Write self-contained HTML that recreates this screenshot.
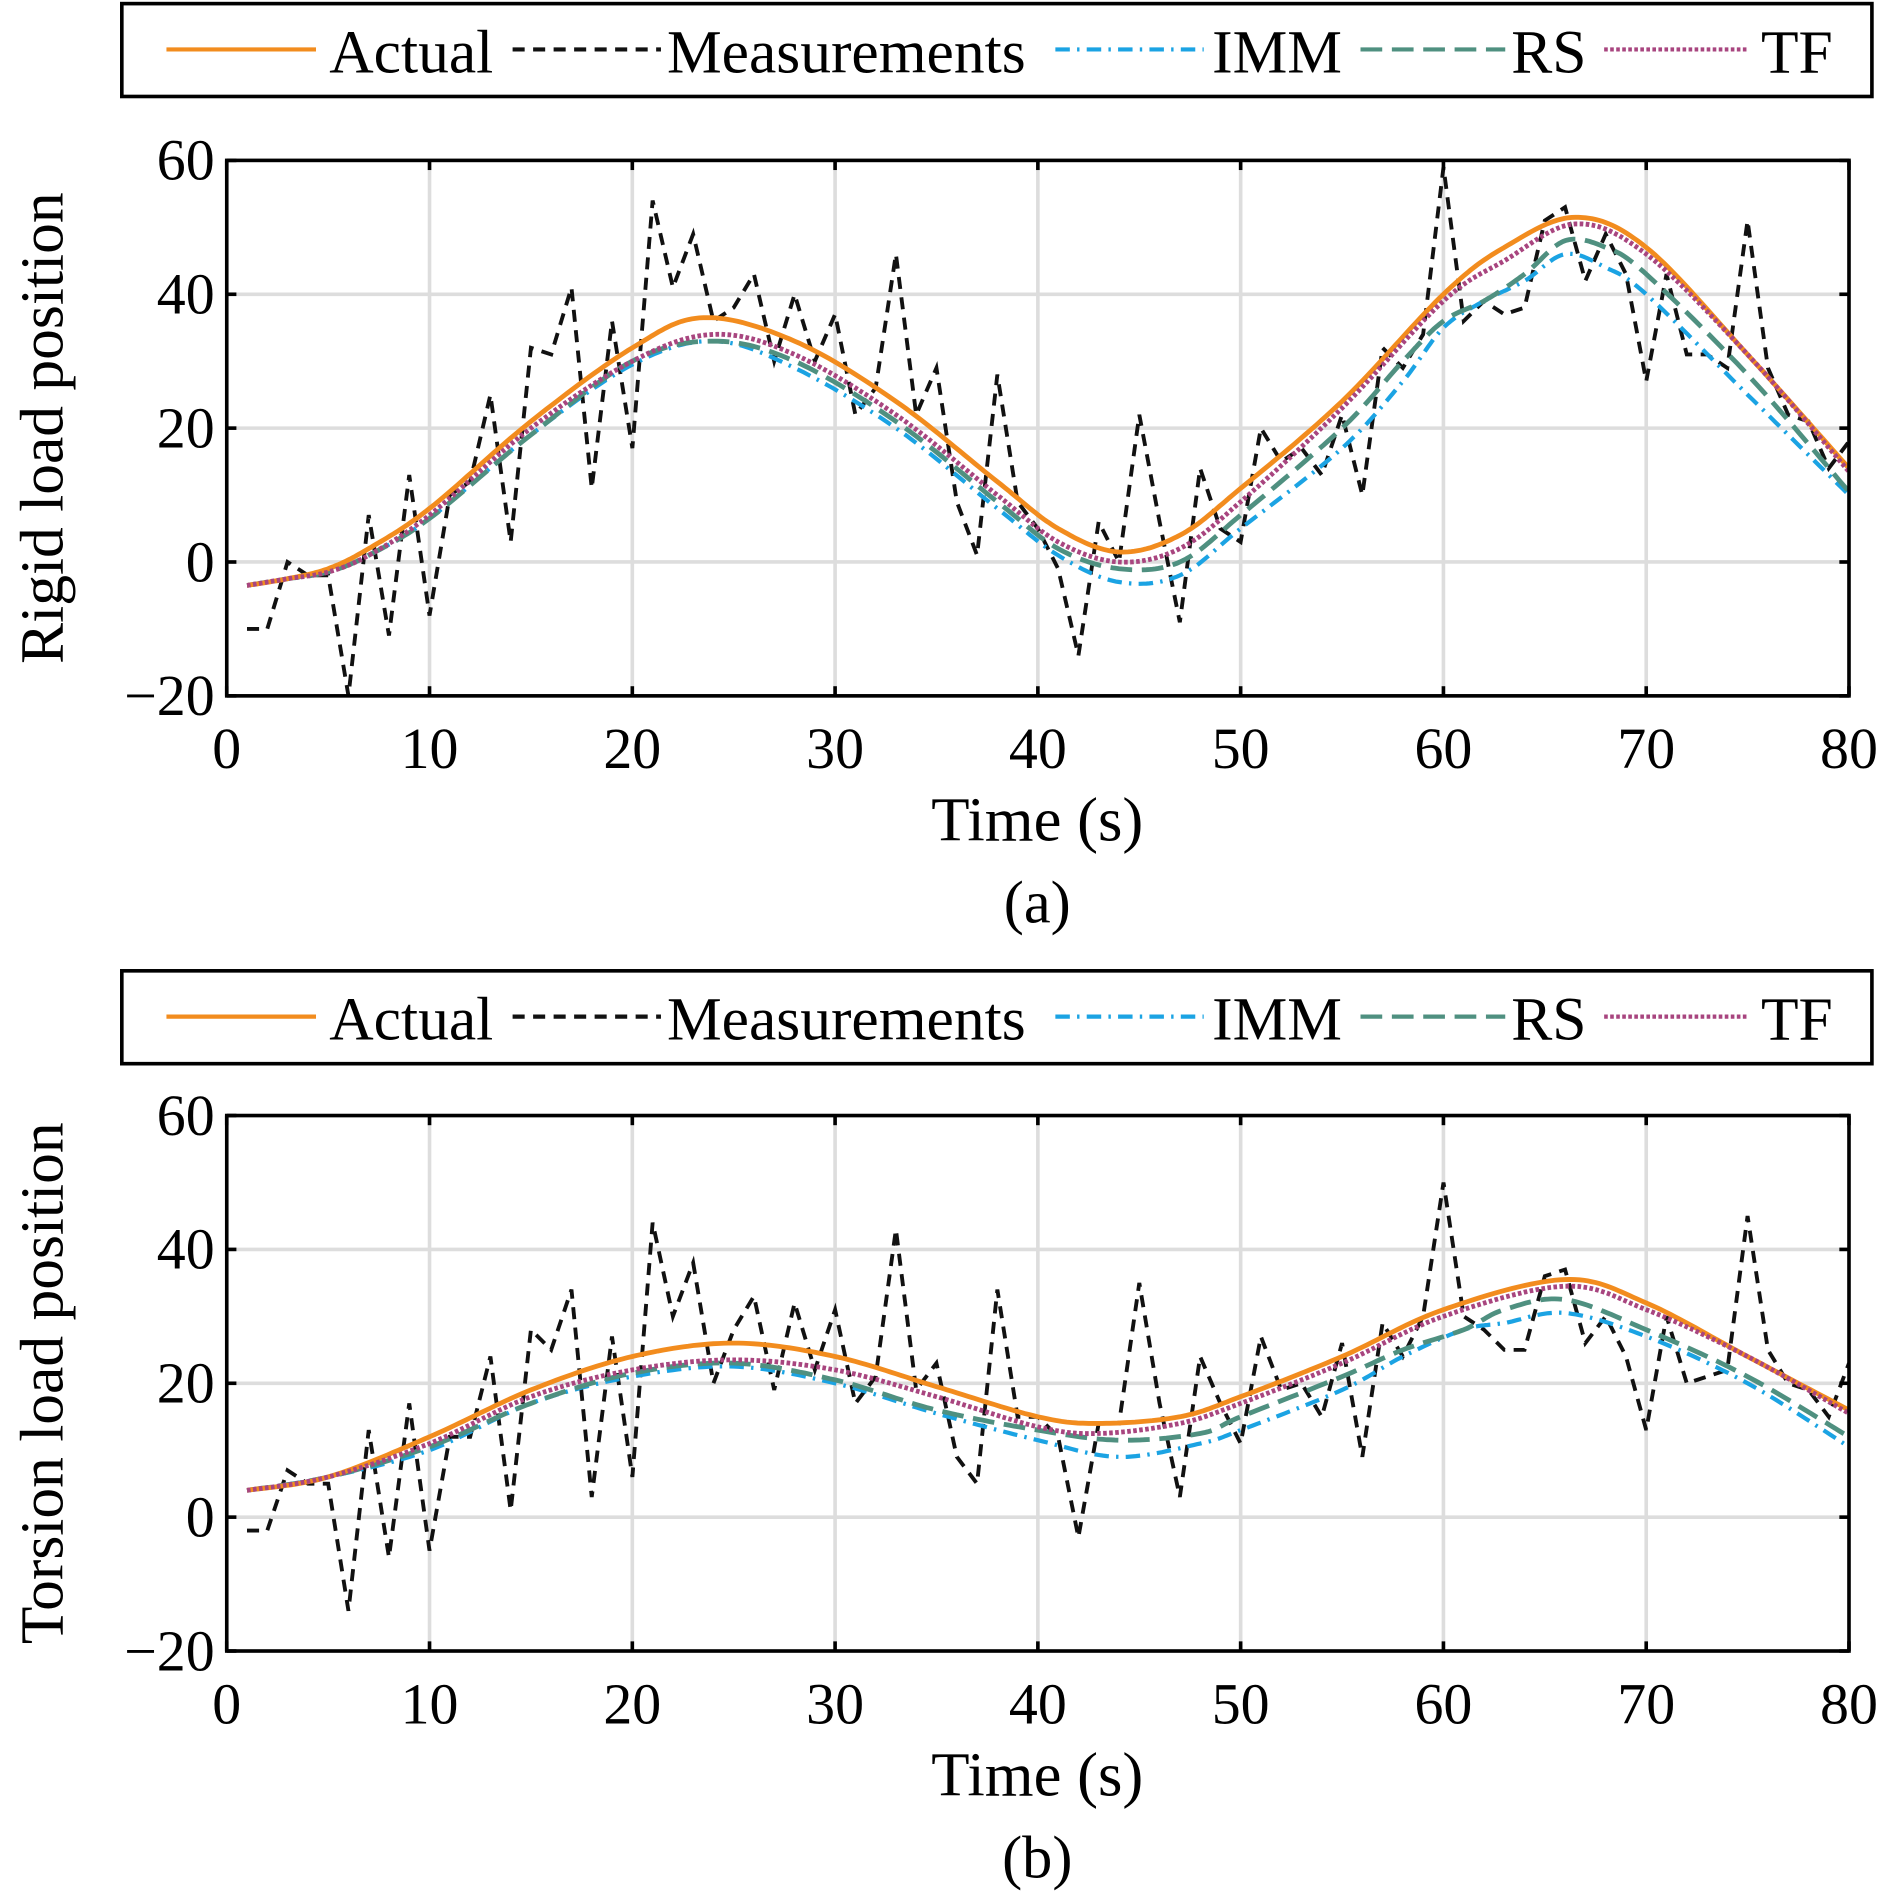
<!DOCTYPE html><html><head><meta charset="utf-8"><style>body{margin:0;background:#fff}svg{display:block}text{font-family:"Liberation Serif",serif;fill:#000}</style></head><body>
<svg id="s" width="1890" height="1891" viewBox="0 0 1567 1568" preserveAspectRatio="none" xmlns="http://www.w3.org/2000/svg"></svg>
<script>
const S=document.getElementById('s');let h='';
const C={a:'#F28C1E',m:'#111',i:'#1BA3E3',r:'#4F9080',t:'#A8457F'};
const ST={a:'',m:'10,7',i:'12,6,2,6',r:'18,8',t:'3,2'};
function legend(y){h+=`<rect x="101" y="${y}" width="1451" height="77" fill="#fff" stroke="#000" stroke-width="3"/>`;
const it=[['a',138,262,273,'Actual'],['m',425,548,553,'Measurements'],['i',875,998,1005,'IMM'],['r',1128,1248,1253,'RS'],['t',1330,1450,1460,'TF']];
for(const[k,x1,x2,tx,l] of it){h+=`<line x1="${x1}" x2="${x2}" y1="${y+38}" y2="${y+38}" stroke="${C[k]}" stroke-width="3.5" stroke-dasharray="${ST[k]}"/><text x="${tx}" y="${y+57}" font-size="51">${l}</text>`}}
function cr(p){let o=[];for(let i=0;i<p.length-1;i++){const p0=p[Math.max(i-1,0)],p1=p[i],p2=p[i+1],p3=p[Math.min(i+2,p.length-1)];for(let t=0;t<1;t+=0.05){const t2=t*t,t3=t2*t;const f=(a,b,c,d)=>0.5*(2*b+(-a+c)*t+(2*a-5*b+4*c-d)*t2+(-a+3*b-3*c+d)*t3);o.push([f(p0[0],p1[0],p2[0],p3[0]),f(p0[1],p1[1],p2[1],p3[1])])}}o.push(p[p.length-1]);return o}
function panel(top,ylab,lab,D){const L=188,R=1533,T=top,B=top+444;const X=v=>L+(v)*(R-L)/80,Y=v=>T+(60-v)*(B-T)/80;
for(let v=10;v<80;v+=10)h+=`<line x1="${X(v)}" x2="${X(v)}" y1="${T}" y2="${B}" stroke="#ddd" stroke-width="3"/>`;
for(let v=0;v<60;v+=20)h+=`<line x1="${L}" x2="${R}" y1="${Y(v)}" y2="${Y(v)}" stroke="#ddd" stroke-width="3"/>`;
h+=`<clipPath id="c${top}"><rect x="${L}" y="${T}" width="${R-L}" height="${B-T}"/></clipPath><g clip-path="url(#c${top})">`;
const pl=(pts,k,w)=>{h+=`<polyline fill="none" stroke="${C[k]}" stroke-width="${w}" stroke-dasharray="${ST[k]}" points="${pts.map(p=>X(p[0]).toFixed(1)+','+Y(p[1]).toFixed(1)).join(' ')}"/>`};
pl(D.m.map((v,i)=>[i+1,v]),'m',3.2);pl(cr(D.i),'i',3.5);pl(cr(D.r),'r',4);pl(cr(D.a),'a',4);pl(cr(D.t),'t',4);h+='</g>';
h+=`<rect x="${L}" y="${T}" width="${R-L}" height="${B-T}" fill="none" stroke="#000" stroke-width="3"/>`;
for(let v=0;v<=80;v+=10){h+=`<line x1="${X(v)}" x2="${X(v)}" y1="${B}" y2="${B-8}" stroke="#000" stroke-width="3"/><line x1="${X(v)}" x2="${X(v)}" y1="${T}" y2="${T+8}" stroke="#000" stroke-width="3"/><text x="${X(v)}" y="${B+60}" font-size="48" text-anchor="middle">${v}</text>`}
for(let v=-20;v<=60;v+=20){h+=`<line x1="${L}" x2="${L+8}" y1="${Y(v)}" y2="${Y(v)}" stroke="#000" stroke-width="3"/><line x1="${R}" x2="${R-8}" y1="${Y(v)}" y2="${Y(v)}" stroke="#000" stroke-width="3"/><text x="${L-10}" y="${Y(v)+16}" font-size="48" text-anchor="end">${v<0?'\u2212'+(-v):v}</text>`}
h+=`<text x="860" y="${B+120}" font-size="52" text-anchor="middle">Time (s)</text><text x="860" y="${B+188}" font-size="50" text-anchor="middle">${lab}</text>`;
h+=`<text transform="translate(52,${(T+B)/2}) rotate(-90)" font-size="51" text-anchor="middle">${ylab}</text>`}
legend(3);
panel(133,'Rigid load position','(a)',{
a:[[1,-3.5],[3,-2.5],[5,-1],[7,2],[10,8],[15,21],[20,32],[23.5,36.5],[28,33],[33,24],[38,12],[41,5],[44,1.5],[47,4],[50,11],[55,24],[60,40],[63,47],[66.5,51.5],[70,47],[75,31],[80,14]],
t:[[1,-3.5],[3,-2.5],[5,-1.5],[7,1],[10,7],[15,20],[20,30],[24,34],[28,31],[33,22],[38,10],[41,3],[44,0],[47,2],[50,9],[55,23],[60,39],[63,45],[66.5,50.5],[70,46],[75,31],[80,13.5]],
r:[[1,-3.5],[3,-2.5],[5,-1.5],[7,1],[10,6.5],[15,19],[20,30],[24,33],[28,30],[33,21],[38,9],[41,2],[44,-1],[47,0],[50,7],[55,20],[58,30],[60,36],[62,39],[64,43],[66,48],[68,47],[70,43],[75,28],[80,10.5]],
i:[[1,-3.5],[3,-2.5],[5,-1.5],[7,1],[10,6.5],[15,19],[20,29.5],[24,33],[28,29],[33,20],[38,8],[41,1],[44,-3],[47,-2],[50,5],[55,17],[58,27],[60,35],[62,39],[64,42],[66,46],[68,44],[70,40],[75,25],[80,10]],
m:[-10,-10,0,-2,-2,-20,7,-11,13,-8,10,12,25,3,32,31,41,11,36,17,54,41,49,36,38,43,30,40,30,37,22,26,46,22,29,9,1,28,9,5,-1,-14,6,0,22,6,-9,14,5,3,20,15,17,13,22,10,32,29,34,59,36,39,37,38,51,53,42,49,43,27,43,31,31,29,51,29,22,21,14,18]});
legend(805);
panel(925,'Torsion load position','(b)',{
a:[[1,4],[5,6],[10,12],[15,19],[20,24],[25,26],[30,24],[35,19.5],[40,15],[43,14],[47,15],[50,18],[55,24],[60,31],[66,35.5],[70,32],[75,24],[80,16]],
t:[[1,4],[5,6],[10,11],[15,18],[20,22],[25,23.5],[30,22],[35,18],[40,13.5],[43,12.5],[47,14],[50,17],[55,23],[60,30],[66,34.5],[70,31],[75,24],[80,15.5]],
r:[[1,4],[5,6],[10,10.5],[15,17],[20,21.5],[25,23],[30,20.5],[35,16],[40,13],[44,11.5],[48,12.5],[50,15],[55,21],[58,25],[61,28],[63,31],[66,32.5],[70,28],[75,21],[80,12]],
i:[[1,4],[5,6],[10,10],[15,17],[20,21],[25,22.5],[30,20],[35,15.5],[40,11.5],[44,9],[48,11],[50,13],[55,19],[58,24],[61,28],[63,29],[66,30.5],[70,27],[75,20],[80,10.5]],
m:[-2,-2,7,5,5,-14,13,-6,17,-5,12,12,24,1,28,25,34,3,27,6,44,30,38,20,28,33,19,32,22,31,17,21,43,19,23,9,5,34,15,15,12,-3,14,14,35,17,3,24,17,11,27,19,20,15,26,9,29,24,30,50,30,28,25,25,36,37,26,30,24,13,30,20,21,22,45,25,20,19,15,23]});
S.innerHTML=h;
</script></body></html>
